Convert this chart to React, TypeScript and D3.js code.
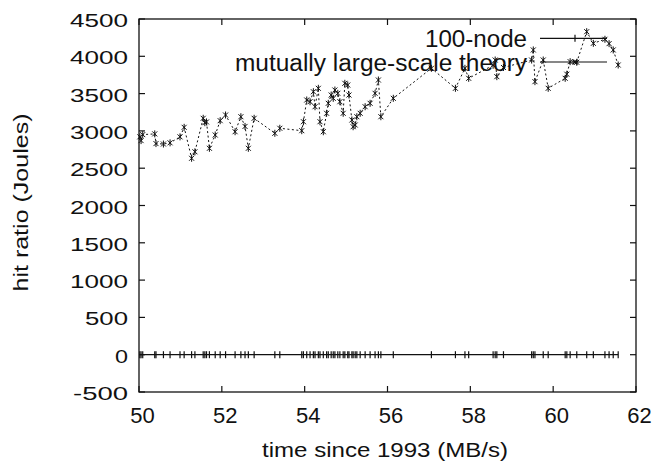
import React from "react";
import * as d3 from "d3";

const xValues = [
  50.02, 50.05, 50.09, 50.38, 50.41, 50.59, 50.75, 50.99, 51.09, 51.27, 51.35,
  51.55, 51.59, 51.63, 51.7, 51.84, 51.96, 52.09, 52.32, 52.46, 52.56, 52.64,
  52.78, 53.28, 53.4, 53.93, 53.97, 54.05, 54.13, 54.21, 54.25, 54.33, 54.37,
  54.45, 54.53, 54.57, 54.64, 54.69, 54.73, 54.8, 54.85, 54.93, 54.97, 55.04,
  55.07, 55.14, 55.17, 55.22, 55.26, 55.34, 55.46, 55.58, 55.7, 55.78, 55.84,
  56.14, 57.06, 57.64, 57.87, 57.96, 58.55, 58.6, 58.64, 58.8, 59.48, 59.52,
  59.56, 59.76, 59.88, 60.29, 60.33, 60.41, 60.57, 60.81, 60.97, 61.25, 61.35,
  61.45, 61.57,
];

const theoryValues = [
  2920, 2870, 2950, 2960, 2830, 2824, 2840, 2920, 3048, 2633, 2720, 3169, 3110,
  3120, 2767, 2945, 3137, 3213, 2989, 3190, 3060, 2767, 3169, 2968, 3035, 3003,
  3123, 3414, 3391, 3525, 3324, 3571, 3123, 2989, 3236, 3370, 3481, 3437, 3548,
  3504, 3391, 3236, 3638, 3615, 3481, 3146, 3056, 3079, 3190, 3236, 3324, 3370,
  3504, 3682, 3190, 3437, 3839, 3571, 3839, 3705, 3880, 3950, 3727, 3850, 3950,
  4085, 3660, 3950, 3571, 3705, 3760, 3928, 3920, 4330, 4174, 4228, 4170, 4085,
  3883,
];

const nodeValues = xValues.map(() => 0);

const xTicks = [50, 52, 54, 56, 58, 60, 62];
const yTicks = [-500, 0, 500, 1000, 1500, 2000, 2500, 3000, 3500, 4000, 4500];

const seriesNames = ["100-node", "mutually large-scale theory"];
const xLabel = "time since 1993 (MB/s)";
const yLabel = "hit ratio (Joules)";

const W = 667;
const H = 466;
const left = 139;
const right = 636;
const top = 19;
const bottom = 392;
const FONT = "'Liberation Sans', Arial, Helvetica, sans-serif";
const INK = "#111";

export default function App() {
  const x = d3.scaleLinear().domain([50, 62]).range([left, right]);
  const y = d3.scaleLinear().domain([-500, 4500]).range([bottom, top]);

  const line = d3
    .line<number>()
    .x((_, i) => x(xValues[i]))
    .y((v) => y(v));

  const tickLen = 6;

  const yLabelWidth = (v: number) => {
    const s = String(v);
    const digits = s.replace("-", "").length;
    return digits * 15 - 2 + (s.startsWith("-") ? 12 : 0);
  };

  return (
    <svg
      width={W}
      height={H}
      style={{ position: "absolute", left: 0, top: 0, background: "#fff" }}
      fontFamily={FONT}
    >
      <rect x={0} y={0} width={W} height={H} fill="#fff" />
      {/* ticks */}
      <g stroke={INK} strokeWidth={1.2}>
        {yTicks.map((t) => (
          <g key={"yt" + t}>
            <line x1={left} x2={left + tickLen} y1={y(t)} y2={y(t)} />
            <line x1={right} x2={right - tickLen} y1={y(t)} y2={y(t)} />
          </g>
        ))}
        {xTicks.map((t) => (
          <g key={"xt" + t}>
            <line x1={x(t)} x2={x(t)} y1={bottom} y2={bottom - tickLen} />
            <line x1={x(t)} x2={x(t)} y1={top} y2={top + tickLen} />
          </g>
        ))}
      </g>
      {/* tick labels */}
      <g fill={INK} fontSize={18}>
        {yTicks.map((t) => (
          <text
            key={"yl" + t}
            x={128}
            y={y(t) + 8}
            textAnchor="end"
            textLength={yLabelWidth(t)}
            lengthAdjust="spacingAndGlyphs"
          >
            {t}
          </text>
        ))}
      </g>
      <g fill={INK} fontSize={22}>
        {xTicks.map((t) => (
          <text key={"xl" + t} x={x(t) + 3.5} y={423} textAnchor="middle">
            {t}
          </text>
        ))}
      </g>
      {/* axis titles */}
      <text
        x={385}
        y={457}
        textAnchor="middle"
        fontSize={20}
        fill={INK}
        textLength={246}
        lengthAdjust="spacingAndGlyphs"
      >
        {xLabel}
      </text>
      <text
        transform="translate(28,202.5) rotate(-90)"
        textAnchor="middle"
        fontSize={20}
        fill={INK}
        textLength={178}
        lengthAdjust="spacingAndGlyphs"
      >
        {yLabel}
      </text>
      {/* 100-node series */}
      <path d={line(nodeValues) || ""} fill="none" stroke={INK} strokeWidth={1.2} />
      <g stroke={INK} strokeWidth={1.2}>
        {nodeValues.map((v, i) => (
          <g key={"n" + i}>
            <line x1={x(xValues[i])} x2={x(xValues[i])} y1={y(v) - 3.5} y2={y(v) + 3.5} />
          </g>
        ))}
      </g>
      {/* theory series */}
      <path
        d={line(theoryValues) || ""}
        fill="none"
        stroke={INK}
        strokeWidth={1}
        strokeDasharray="2,2.5"
      />
      <g stroke={INK} strokeWidth={1}>
        {theoryValues.map((v, i) => {
          const cx = x(xValues[i]);
          const cy = y(v);
          return (
            <g key={"t" + i}>
              <line x1={cx - 2.5} x2={cx + 2.5} y1={cy - 2.5} y2={cy + 2.5} />
              <line x1={cx - 2.5} x2={cx + 2.5} y1={cy + 2.5} y2={cy - 2.5} />
              <line x1={cx} x2={cx} y1={cy - 3.5} y2={cy + 3.5} />
            </g>
          );
        })}
      </g>
      {/* legend */}
      <g fill={INK} fontSize={23}>
        <text x={527} y={46.5} textAnchor="end" textLength={102} lengthAdjust="spacingAndGlyphs">
          {seriesNames[0]}
        </text>
        <text x={527} y={70.5} textAnchor="end" textLength={292} lengthAdjust="spacingAndGlyphs">
          {seriesNames[1]}
        </text>
      </g>
      <g stroke={INK} strokeWidth={1.2}>
        <line x1={540} x2={607} y1={38.3} y2={38.3} />
        <line x1={575} x2={575} y1={34.8} y2={41.8} />
        <line x1={540} x2={607} y1={62} y2={62} />
        <line x1={572.5} x2={577.5} y1={59.5} y2={64.5} />
        <line x1={572.5} x2={577.5} y1={64.5} y2={59.5} />
      </g>
      {/* frame */}
      <rect
        x={left}
        y={top}
        width={right - left}
        height={bottom - top}
        fill="none"
        stroke={INK}
        strokeWidth={1.3}
      />
    </svg>
  );
}
